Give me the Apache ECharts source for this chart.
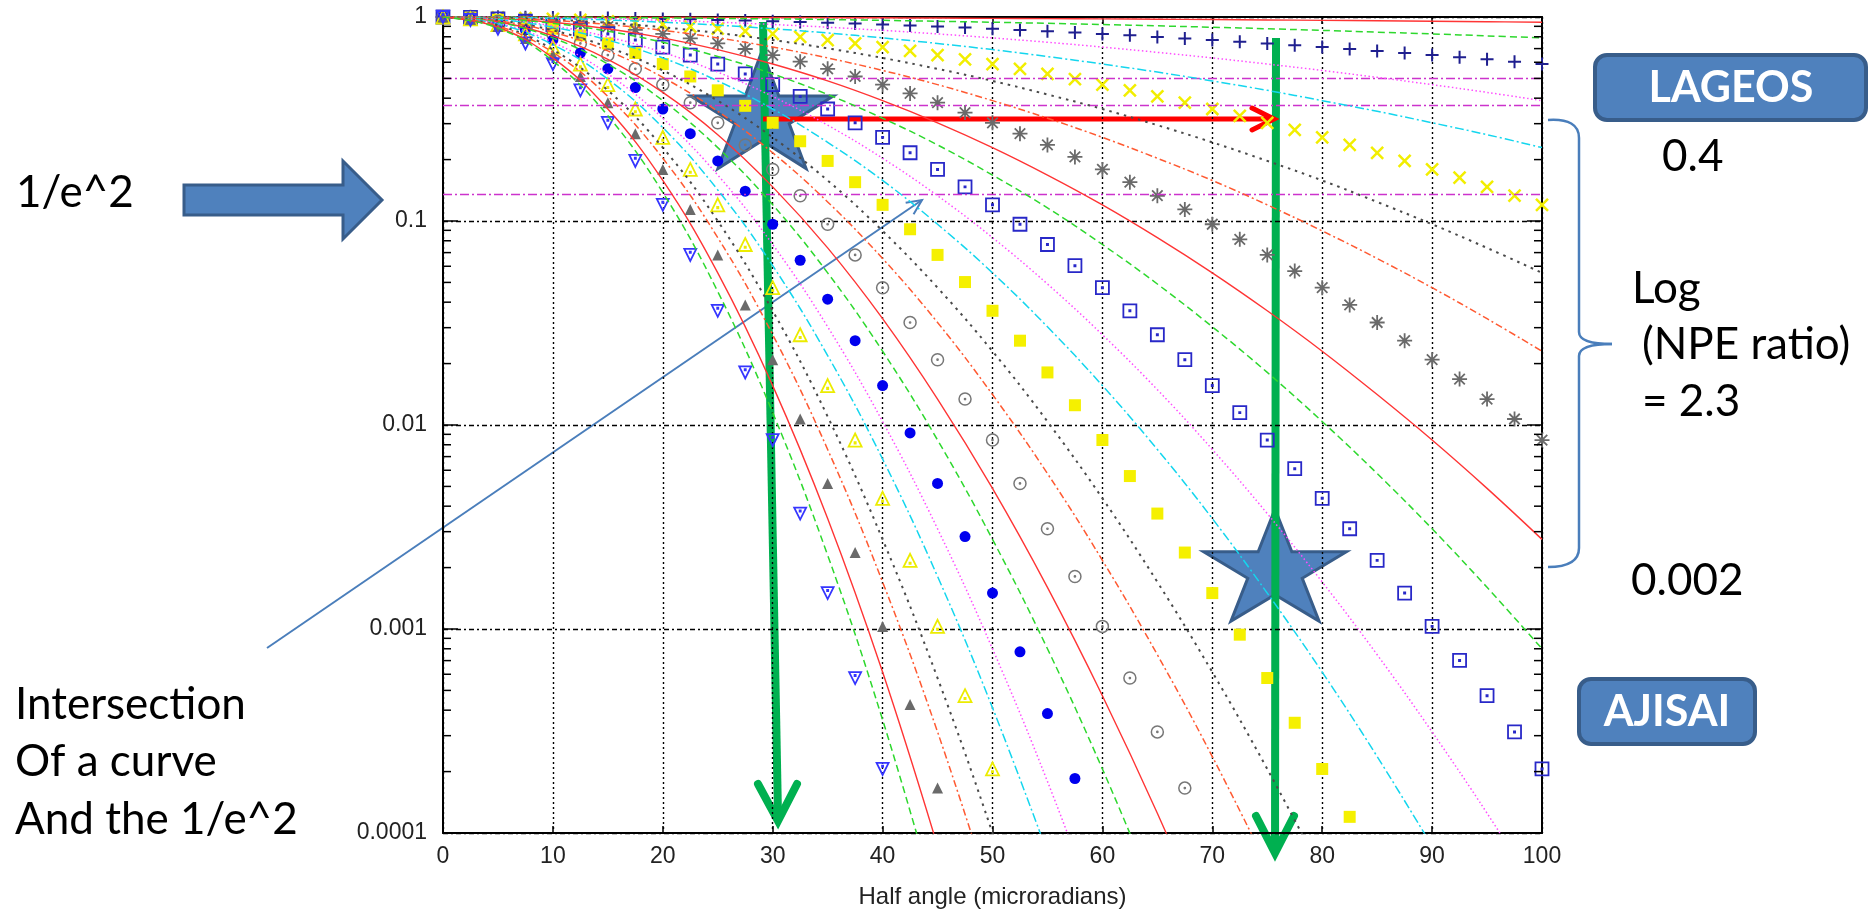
<!DOCTYPE html>
<html>
<head>
<meta charset="utf-8">
<script src="https://cdn.jsdelivr.net/npm/echarts@6/dist/echarts.min.js"></script>
<style>
  html, body { margin: 0; padding: 0; background: #fff; }
  #chart { width: 1869px; height: 914px; }
</style>
</head>
<body>
<div id="chart"></div>
<script>
// Half-angle positions (microradians) of the point-style curves and of the line-style curves
const MARK_X = [0, 2.5, 5, 7.5, 10, 12.5, 15, 17.5, 20, 22.5, 25, 27.5, 30, 32.5, 35, 37.5, 40, 42.5, 45, 47.5,
  50, 52.5, 55, 57.5, 60, 62.5, 65, 67.5, 70, 72.5, 75, 77.5, 80, 82.5, 85, 87.5, 90, 92.5, 95, 97.5, 100];
const LINE_X = [0, 5, 10, 15, 20, 25, 30, 35, 40, 45, 50, 55, 60, 65, 70, 75, 80, 85, 90, 95, 100];

// NPE ratio, curves drawn with point symbols (widest to narrowest)
const PTS_1 = [1, 1, 0.999, 0.997, 0.995, 0.992, 0.988, 0.984, 0.979, 0.974, 0.967, 0.961, 0.953, 0.946, 0.937, 0.928, 0.919, 0.909, 0.898, 0.887, 0.876, 0.864, 0.852, 0.839, 0.826, 0.813, 0.799, 0.785, 0.771, 0.757, 0.742, 0.727, 0.712, 0.697, 0.682, 0.666, 0.651, 0.635, 0.62, 0.604, 0.588];
const PTS_2 = [1, 0.999, 0.995, 0.988, 0.979, 0.967, 0.953, 0.937, 0.919, 0.898, 0.876, 0.852, 0.826, 0.799, 0.771, 0.742, 0.712, 0.682, 0.651, 0.62, 0.588, 0.557, 0.526, 0.496, 0.466, 0.437, 0.408, 0.38, 0.354, 0.328, 0.303, 0.28, 0.257, 0.236, 0.216, 0.197, 0.179, 0.163, 0.147, 0.133, 0.12];
const PTS_3 = [1, 0.997, 0.988, 0.974, 0.953, 0.928, 0.898, 0.864, 0.826, 0.785, 0.742, 0.697, 0.651, 0.604, 0.557, 0.511, 0.466, 0.422, 0.38, 0.34, 0.303, 0.268, 0.236, 0.206, 0.179, 0.155, 0.133, 0.114, 0.0964, 0.0813, 0.0682, 0.0568, 0.0471, 0.0388, 0.0318, 0.0259, 0.0209, 0.0168, 0.0134, 0.0107, 0.00844];
const PTS_4 = [1, 0.995, 0.979, 0.953, 0.919, 0.876, 0.826, 0.771, 0.712, 0.651, 0.588, 0.526, 0.466, 0.408, 0.354, 0.303, 0.257, 0.216, 0.179, 0.147, 0.12, 0.0964, 0.0767, 0.0604, 0.0471, 0.0363, 0.0277, 0.0209, 0.0156, 0.0115, 0.00844, 0.00611, 0.00437, 0.0031, 0.00217, 0.0015, 0.00103, 0.000701, 0.000471, 0.000313, 0.000206];
const PTS_5 = [1, 0.992, 0.967, 0.928, 0.876, 0.813, 0.742, 0.666, 0.588, 0.511, 0.437, 0.367, 0.303, 0.246, 0.197, 0.155, 0.12, 0.0911, 0.0682, 0.0502, 0.0363, 0.0259, 0.0181, 0.0125, 0.00844, 0.00562, 0.00368, 0.00237, 0.0015, 0.000938, 0.000575, 0.000347, 0.000206, 0.00012];
const PTS_6 = [1, 0.988, 0.953, 0.898, 0.826, 0.742, 0.651, 0.557, 0.466, 0.38, 0.303, 0.236, 0.179, 0.133, 0.0964, 0.0682, 0.0471, 0.0318, 0.0209, 0.0134, 0.00844, 0.00517, 0.0031, 0.00181, 0.00103, 0.000575, 0.000313, 0.000166];
const PTS_7 = [1, 0.984, 0.937, 0.864, 0.771, 0.666, 0.557, 0.451, 0.354, 0.268, 0.197, 0.14, 0.0964, 0.0642, 0.0414, 0.0259, 0.0156, 0.00914, 0.00517, 0.00284, 0.0015, 0.000773, 0.000385, 0.000185];
const PTS_8 = [1, 0.979, 0.919, 0.826, 0.712, 0.588, 0.466, 0.354, 0.257, 0.179, 0.12, 0.0767, 0.0471, 0.0277, 0.0156, 0.00844, 0.00437, 0.00217, 0.00103, 0.000471, 0.000206];
const PTS_9 = [1, 0.974, 0.898, 0.785, 0.651, 0.511, 0.38, 0.268, 0.179, 0.114, 0.0682, 0.0388, 0.0209, 0.0107, 0.00517, 0.00237, 0.00103, 0.000426, 0.000166];
const PTS_10 = [1, 0.967, 0.876, 0.742, 0.588, 0.437, 0.303, 0.197, 0.12, 0.0682, 0.0363, 0.0181, 0.00844, 0.00368, 0.0015, 0.000575, 0.000206];

// NPE ratio, curves drawn as plain lines (between the point-style ones)
const LN_1 = [1, 1, 0.999, 0.999, 0.998, 0.996, 0.995, 0.993, 0.991, 0.988, 0.985, 0.982, 0.979, 0.975, 0.972, 0.967, 0.963, 0.958, 0.953, 0.948, 0.943];
const LN_2 = [1, 0.999, 0.998, 0.995, 0.991, 0.985, 0.979, 0.972, 0.963, 0.953, 0.943, 0.931, 0.919, 0.905, 0.891, 0.876, 0.86, 0.843, 0.826, 0.808, 0.79];
const LN_4 = [1, 0.998, 0.991, 0.979, 0.963, 0.943, 0.919, 0.891, 0.86, 0.826, 0.79, 0.752, 0.712, 0.671, 0.63, 0.588, 0.547, 0.506, 0.466, 0.427, 0.389];
const LN_5 = [1, 0.996, 0.985, 0.967, 0.943, 0.912, 0.876, 0.835, 0.79, 0.742, 0.692, 0.64, 0.588, 0.537, 0.486, 0.437, 0.389, 0.345, 0.303, 0.265, 0.229];
const LN_7 = [1, 0.993, 0.972, 0.937, 0.891, 0.835, 0.771, 0.702, 0.63, 0.557, 0.486, 0.417, 0.354, 0.295, 0.243, 0.197, 0.158, 0.124, 0.0964, 0.0738, 0.0557];
const LN_8 = [1, 0.991, 0.963, 0.919, 0.86, 0.79, 0.712, 0.63, 0.547, 0.466, 0.389, 0.319, 0.257, 0.203, 0.158, 0.12, 0.0894, 0.0655, 0.0471, 0.0332, 0.023];
const LN_10 = [1, 0.985, 0.943, 0.876, 0.79, 0.692, 0.588, 0.486, 0.389, 0.303, 0.229, 0.168, 0.12, 0.0829, 0.0557, 0.0363, 0.023, 0.0141, 0.00844, 0.00489, 0.00275];
const LN_11 = [1, 0.982, 0.931, 0.852, 0.752, 0.64, 0.526, 0.417, 0.319, 0.236, 0.168, 0.116, 0.0767, 0.0491, 0.0303, 0.0181, 0.0104, 0.00578, 0.0031, 0.0016, 0.0008];
const LN_13 = [1, 0.975, 0.905, 0.799, 0.671, 0.537, 0.408, 0.295, 0.203, 0.133, 0.0829, 0.0491, 0.0277, 0.0149, 0.00759, 0.00368, 0.0017, 0.000748, 0.000313, 0.000125, 0.0000472];
const LN_14 = [1, 0.972, 0.891, 0.771, 0.63, 0.486, 0.354, 0.243, 0.158, 0.0964, 0.0557, 0.0303, 0.0156, 0.00759, 0.00348, 0.0015, 0.000615, 0.000237, 0.0000862];
const LN_16 = [1, 0.963, 0.86, 0.712, 0.547, 0.389, 0.257, 0.158, 0.0894, 0.0471, 0.023, 0.0104, 0.00437, 0.0017, 0.000615, 0.000206, 0.0000639];
const LN_17 = [1, 0.958, 0.843, 0.682, 0.506, 0.345, 0.216, 0.124, 0.0655, 0.0318, 0.0141, 0.00578, 0.00217, 0.000748, 0.000237, 0.0000689];
const LN_19 = [1, 0.948, 0.808, 0.62, 0.427, 0.265, 0.147, 0.0738, 0.0332, 0.0134, 0.00489, 0.0016, 0.000471, 0.000125, 0.0000296];
const LN_20 = [1, 0.943, 0.79, 0.588, 0.389, 0.229, 0.12, 0.0557, 0.023, 0.00844, 0.00275, 0.0008, 0.000206, 0.0000472];
const LN_22 = [1, 0.931, 0.752, 0.526, 0.319, 0.168, 0.0767, 0.0303, 0.0104, 0.0031, 0.0008, 0.000179, 0.0000346];
const LN_23 = [1, 0.925, 0.732, 0.496, 0.287, 0.142, 0.0604, 0.0219, 0.00681, 0.00181, 0.000411, 0.00008];
const LN_25 = [1, 0.912, 0.692, 0.437, 0.229, 0.1, 0.0363, 0.011, 0.00275, 0.000575, 0.0001, 0.0000145];
const LN_26 = [1, 0.905, 0.671, 0.408, 0.203, 0.0829, 0.0277, 0.00759, 0.0017, 0.000313, 0.0000472];
const LN_28 = [1, 0.891, 0.63, 0.354, 0.158, 0.0557, 0.0156, 0.00348, 0.000615, 0.0000862];
const LN_29 = [1, 0.884, 0.609, 0.328, 0.138, 0.0451, 0.0115, 0.0023, 0.000359, 0.0000437];

// Reference levels: 0.5, 1/e and 1/e^2
const LEVELS = [0.5, 0.368, 0.135];

// Axis ticks and labels
const Y_TICK_LABELS = ['0.0001', '0.001', '0.01', '0.1', '1'];
const MINOR_Y = [0.0002, 0.0003, 0.0004, 0.0005, 0.0006, 0.0007, 0.0008, 0.0009,
  0.002, 0.003, 0.004, 0.005, 0.006, 0.007, 0.008, 0.009,
  0.02, 0.03, 0.04, 0.05, 0.06, 0.07, 0.08, 0.09,
  0.2, 0.3, 0.4, 0.5, 0.6, 0.7, 0.8, 0.9];

// Curves from widest to narrowest: a line pair, then a point curve, repeated
const CURVES = [
  ['line', LN_1], ['line', LN_2], ['mark', PTS_1],
  ['line', LN_4], ['line', LN_5], ['mark', PTS_2],
  ['line', LN_7], ['line', LN_8], ['mark', PTS_3],
  ['line', LN_10], ['line', LN_11], ['mark', PTS_4],
  ['line', LN_13], ['line', LN_14], ['mark', PTS_5],
  ['line', LN_16], ['line', LN_17], ['mark', PTS_6],
  ['line', LN_19], ['line', LN_20], ['mark', PTS_7],
  ['line', LN_22], ['line', LN_23], ['mark', PTS_8],
  ['line', LN_25], ['line', LN_26], ['mark', PTS_9],
  ['line', LN_28], ['line', LN_29], ['mark', PTS_10]
];

const LINE_STYLES = [
  { color: '#ff3535', type: 'solid', width: 1.4 },
  { color: '#2ed82e', type: [7, 4], width: 1.5 },
  { color: '#ff4cff', type: [1.5, 2.5], width: 1.5 },
  { color: '#14d6ee', type: [9, 3, 2, 3], width: 1.5 },
  { color: '#4a4a4a', type: [2.5, 5], width: 2 },
  { color: '#ff5a32', type: [7, 3, 2, 3], width: 1.5 }
];

const MARK_STYLES = [
  { symbol: 'path://M0,-1L0,1M-1,0L1,0', size: 13, stroke: '#1f1f8f', lw: 2 },
  { symbol: 'path://M-1,-1L1,1M-1,1L1,-1', size: 12, stroke: '#f2ee00', lw: 2.5 },
  { symbol: 'path://M0,-1L0,1M-1,0L1,0M-0.7,-0.7L0.7,0.7M-0.7,0.7L0.7,-0.7', size: 15, stroke: '#6a6a6a', lw: 1.8 },
  { symbol: 'path://M-1,-1L1,-1L1,1L-1,1ZM-0.09,-0.09L0.09,-0.09L0.09,0.09L-0.09,0.09Z', size: 13, stroke: '#2828c8', lw: 1.8 },
  { symbol: 'rect', size: 12, fill: '#f5f000' },
  { symbol: 'path://M-1,0A1,1,0,1,1,1,0A1,1,0,1,1,-1,0ZM-0.1,0A0.1,0.1,0,1,1,0.1,0A0.1,0.1,0,1,1,-0.1,0Z', size: 12, stroke: '#777777', lw: 1.5 },
  { symbol: 'circle', size: 11, fill: '#0000ee' },
  { symbol: 'path://M0,-1L1,0.8L-1,0.8ZM-0.09,0.2L0.09,0.2L0.09,0.38L-0.09,0.38Z', size: 13, stroke: '#ecec00', lw: 1.8 },
  { symbol: 'triangle', size: 11, fill: '#6a6a6a' },
  { symbol: 'path://M-1,-0.8L1,-0.8L0,1ZM-0.09,-0.38L0.09,-0.38L0.09,-0.2L-0.09,-0.2Z', size: 12, stroke: '#3535ff', lw: 1.8 }
];

const series = [];

LEVELS.forEach(v => {
  series.push({
    type: 'line', silent: true, symbol: 'none',
    data: [[0, v], [100, v]],
    lineStyle: { color: '#cc33cc', width: 1.5, type: [9, 3, 2, 3] }
  });
});

let lineCount = 0, markCount = 0;
CURVES.forEach(([kind, values]) => {
  if (kind === 'line') {
    const st = LINE_STYLES[lineCount % LINE_STYLES.length];
    lineCount++;
    series.push({
      type: 'line', silent: true, symbol: 'none', smooth: 0.4,
      data: values.map((v, i) => [LINE_X[i], v]),
      lineStyle: { color: st.color, width: st.width, type: st.type }
    });
  } else {
    const st = MARK_STYLES[markCount++];
    series.push({
      type: 'scatter', silent: true,
      symbol: st.symbol, symbolSize: st.size,
      data: values.map((v, i) => [MARK_X[i], v]),
      itemStyle: st.fill
        ? { color: st.fill, borderWidth: 0, opacity: 1 }
        : { color: 'rgba(0,0,0,0)', borderColor: st.stroke, borderWidth: st.lw, opacity: 1 }
    });
  }
});

// Minor log ticks on the left and right frame edges
series.push({
  type: 'custom', silent: true, z: 6,
  data: MINOR_Y.map(v => [0, v]),
  renderItem(params, api) {
    const y = api.coord([0, api.value(1)])[1];
    const cs = params.coordSys;
    const ls = { stroke: '#000', lineWidth: 1.5 };
    return {
      type: 'group',
      children: [
        { type: 'line', shape: { x1: cs.x, y1: y, x2: cs.x + 8, y2: y }, style: ls },
        { type: 'line', shape: { x1: cs.x + cs.width - 8, y1: y, x2: cs.x + cs.width, y2: y }, style: ls }
      ]
    };
  }
});

// Annotation drawing helpers
function starPoints(cx, cy, rx, ry) {
  const pts = [];
  for (let k = 0; k < 10; k++) {
    const a = -Math.PI / 2 + k * Math.PI / 5;
    const r = k % 2 === 0 ? 1 : 0.382;
    pts.push([cx + rx * r * Math.cos(a), cy + ry * r * Math.sin(a)]);
  }
  return pts;
}
function chevron(tx, ty, fx, fy, len, half) {
  const dx = tx - fx, dy = ty - fy, d = Math.hypot(dx, dy);
  const ux = dx / d, uy = dy / d;
  const bx = tx - ux * len, by = ty - uy * len;
  return [[bx - uy * half, by + ux * half], [tx, ty], [bx + uy * half, by - ux * half]];
}

const BLUE_FILL = '#4f81bd', BLUE_EDGE = '#385d8a', THIN_BLUE = '#4a7ebb';
const GREEN = '#00b050', RED = '#ff0000';
const TXT = '44px Lato';

const graphics = [
  // block arrow pointing at the 1/e^2 level
  { type: 'polygon', shape: { points: [[184, 185], [343, 185], [343, 161], [382, 200], [343, 239], [343, 215], [184, 215]] },
    style: { fill: BLUE_FILL, stroke: BLUE_EDGE, lineWidth: 3 } },
  { type: 'text', x: 16, y: 193, style: { text: '1/e^2', font: TXT, fill: '#000', textVerticalAlign: 'middle', verticalAlign: 'middle' } },
  { type: 'text', x: 15, y: 705, style: { text: 'Intersection', font: TXT, fill: '#000', textVerticalAlign: 'middle', verticalAlign: 'middle' } },
  { type: 'text', x: 15, y: 762, style: { text: 'Of a curve', font: TXT, fill: '#000', textVerticalAlign: 'middle', verticalAlign: 'middle' } },
  { type: 'text', x: 15, y: 820, style: { text: 'And the 1/e^2', font: TXT, fill: '#000', textVerticalAlign: 'middle', verticalAlign: 'middle' } },

  // thin pointer to the intersection
  { type: 'line', shape: { x1: 267, y1: 648, x2: 922, y2: 200 }, style: { stroke: THIN_BLUE, lineWidth: 2 } },
  { type: 'polyline', shape: { points: chevron(922, 200, 267, 648, 15, 7) }, style: { stroke: THIN_BLUE, lineWidth: 2, fill: null } },

  // stars
  { type: 'polygon', shape: { points: starPoints(762, 116, 75, 65) }, style: { fill: BLUE_FILL, stroke: BLUE_EDGE, lineWidth: 3 } },
  { type: 'polygon', shape: { points: starPoints(1275, 571, 75, 62) }, style: { fill: BLUE_FILL, stroke: BLUE_EDGE, lineWidth: 3 } },

  // green drop arrows
  { type: 'line', shape: { x1: 763, y1: 22, x2: 778, y2: 816 }, style: { stroke: GREEN, lineWidth: 8 } },
  { type: 'polyline', shape: { points: [[758, 784], [778, 821], [797, 784]] }, style: { stroke: GREEN, lineWidth: 8, fill: null, lineJoin: 'miter', lineCap: 'round' } },
  { type: 'line', shape: { x1: 1276, y1: 38, x2: 1275, y2: 848 }, style: { stroke: GREEN, lineWidth: 8 } },
  { type: 'polyline', shape: { points: [[1256, 816], [1275, 853], [1294, 816]] }, style: { stroke: GREEN, lineWidth: 8, fill: null, lineJoin: 'miter', lineCap: 'round' } },

  // red horizontal arrow
  { type: 'line', shape: { x1: 763, y1: 119, x2: 1272, y2: 119 }, style: { stroke: RED, lineWidth: 5 } },
  { type: 'polyline', shape: { points: [[1252, 108], [1274, 119], [1252, 130]] }, style: { stroke: RED, lineWidth: 5, fill: null, lineCap: 'round' } },

  // curly brace on the right
  { type: 'bezierCurve', shape: { x1: 1548, y1: 120, cpx1: 1579, cpy1: 118, x2: 1579, y2: 138 }, style: { stroke: THIN_BLUE, lineWidth: 2.5, fill: null } },
  { type: 'line', shape: { x1: 1579, y1: 138, x2: 1579, y2: 332 }, style: { stroke: THIN_BLUE, lineWidth: 2.5 } },
  { type: 'bezierCurve', shape: { x1: 1579, y1: 332, cpx1: 1579, cpy1: 344, x2: 1612, y2: 344 }, style: { stroke: THIN_BLUE, lineWidth: 2.5, fill: null } },
  { type: 'bezierCurve', shape: { x1: 1612, y1: 344, cpx1: 1579, cpy1: 344, x2: 1579, y2: 356 }, style: { stroke: THIN_BLUE, lineWidth: 2.5, fill: null } },
  { type: 'line', shape: { x1: 1579, y1: 356, x2: 1579, y2: 548 }, style: { stroke: THIN_BLUE, lineWidth: 2.5 } },
  { type: 'bezierCurve', shape: { x1: 1579, y1: 548, cpx1: 1579, cpy1: 567, x2: 1548, y2: 567 }, style: { stroke: THIN_BLUE, lineWidth: 2.5, fill: null } },

  // right-hand notes
  { type: 'rect', shape: { x: 1595, y: 55, width: 271, height: 65, r: 12 }, style: { fill: BLUE_FILL, stroke: BLUE_EDGE, lineWidth: 4 } },
  { type: 'text', x: 1731, y: 88, style: { text: 'LAGEOS', font: 'bold 43px Lato', fill: '#fff', textAlign: 'center', align: 'center', textVerticalAlign: 'middle', verticalAlign: 'middle' } },
  { type: 'text', x: 1662, y: 157, style: { text: '0.4', font: TXT, fill: '#000', textVerticalAlign: 'middle', verticalAlign: 'middle' } },
  { type: 'text', x: 1632, y: 289, style: { text: 'Log', font: TXT, fill: '#000', textVerticalAlign: 'middle', verticalAlign: 'middle' } },
  { type: 'text', x: 1642, y: 345, style: { text: '(NPE ratio)', font: TXT, fill: '#000', textVerticalAlign: 'middle', verticalAlign: 'middle' } },
  { type: 'text', x: 1642, y: 402, style: { text: '= 2.3', font: TXT, fill: '#000', textVerticalAlign: 'middle', verticalAlign: 'middle' } },
  { type: 'text', x: 1631, y: 581, style: { text: '0.002', font: TXT, fill: '#000', textVerticalAlign: 'middle', verticalAlign: 'middle' } },
  { type: 'rect', shape: { x: 1579, y: 679, width: 176, height: 65, r: 12 }, style: { fill: BLUE_FILL, stroke: BLUE_EDGE, lineWidth: 4 } },
  { type: 'text', x: 1667, y: 712, style: { text: 'AJISAI', font: 'bold 43px Lato', fill: '#fff', textAlign: 'center', align: 'center', textVerticalAlign: 'middle', verticalAlign: 'middle' } }
];

const AXIS_FONT = 'Liberation Sans';
const frameLine = { show: true, onZero: false, lineStyle: { color: '#000', width: 2 } };

const option = {
  animation: false,
  backgroundColor: '#ffffff',
  grid: { left: 443, top: 17, width: 1099, height: 816, containLabel: false },
  xAxis: [
    {
      type: 'value', min: 0, max: 100, interval: 10, position: 'bottom',
      name: 'Half angle (microradians)', nameLocation: 'middle', nameGap: 52,
      nameTextStyle: { fontFamily: AXIS_FONT, fontSize: 24, color: '#222' },
      axisLine: frameLine,
      axisTick: { show: true, inside: true, length: 7, lineStyle: { color: '#000', width: 1.5 } },
      axisLabel: { fontFamily: AXIS_FONT, fontSize: 23, color: '#222', margin: 12 },
      splitLine: { show: true, lineStyle: { color: '#000', width: 1.4, type: [2, 3] } }
    },
    {
      type: 'value', min: 0, max: 100, interval: 10, position: 'top',
      axisLine: frameLine,
      axisTick: { show: true, inside: true, length: 7, lineStyle: { color: '#000', width: 1.5 } },
      axisLabel: { show: false }, splitLine: { show: false }
    }
  ],
  yAxis: [
    {
      type: 'log', logBase: 10, min: 0.0001, max: 1, splitNumber: 4, position: 'left',
      axisLine: frameLine,
      axisTick: { show: true, inside: true, length: 15, lineStyle: { color: '#000', width: 1.5 } },
      axisLabel: {
        fontFamily: AXIS_FONT, fontSize: 23, color: '#222', margin: 16,
        formatter: v => Y_TICK_LABELS[Math.round(Math.log10(v)) + 4] || ''
      },
      splitLine: { show: true, lineStyle: { color: '#000', width: 1.4, type: [5, 3, 2, 3] } }
    },
    {
      type: 'log', logBase: 10, min: 0.0001, max: 1, splitNumber: 4, position: 'right',
      axisLine: frameLine,
      axisTick: { show: true, inside: true, length: 15, lineStyle: { color: '#000', width: 1.5 } },
      axisLabel: { show: false }, splitLine: { show: false }
    }
  ],
  series: series,
  graphic: { elements: graphics }
};

const chart = echarts.init(document.getElementById('chart'), null, { renderer: 'canvas' });
chart.setOption(option);
</script>
</body>
</html>
